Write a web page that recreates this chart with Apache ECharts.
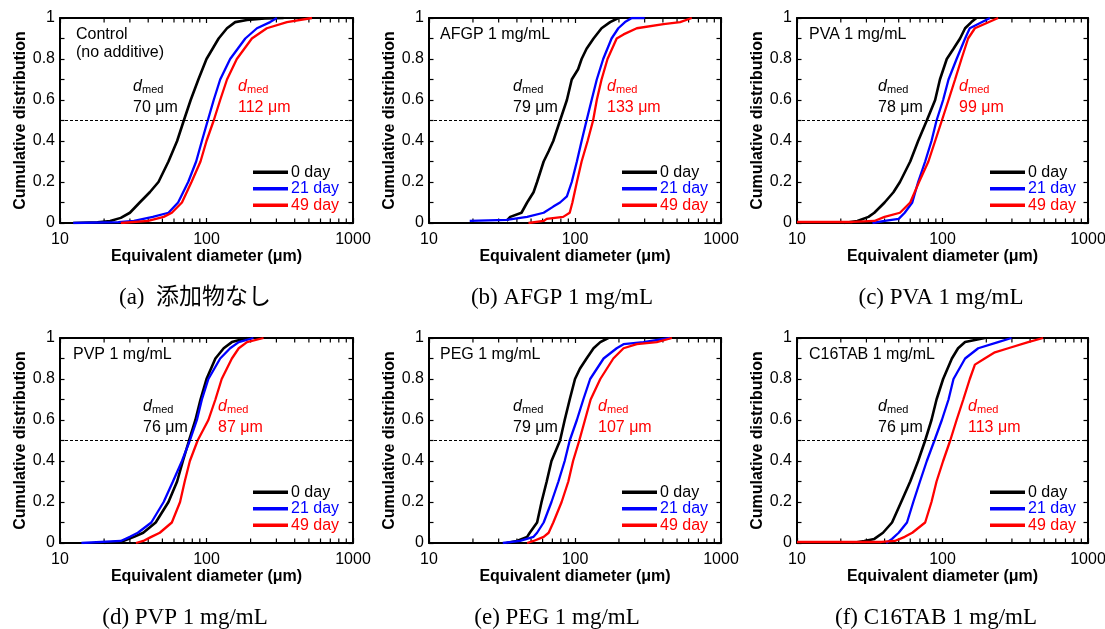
<!DOCTYPE html>
<html><head><meta charset="utf-8">
<script src="https://cdn.jsdelivr.net/npm/echarts@6/dist/echarts.min.js"></script>
<style>html,body{margin:0;padding:0;background:#fff;overflow:hidden}#c{width:1140px;height:629px}</style>
</head><body><div id="c"></div><script>
// ---------- data ----------
const DAYS = ['0 day', '21 day', '49 day'];
const X_MINOR_TICKS = [20,30,40,50,60,70,80,90,200,300,400,500,600,700,800,900];
const PANEL_LABELS = [['Control','(no additive)'], ['AFGP 1 mg/mL'], ['PVA 1 mg/mL'], ['PVP 1 mg/mL'], ['PEG 1 mg/mL'], ['C16TAB 1 mg/mL']];
const CAPTIONS = ['(a)  添加物なし', '(b) AFGP 1 mg/mL', '(c) PVA 1 mg/mL', '(d) PVP 1 mg/mL', '(e) PEG 1 mg/mL', '(f) C16TAB 1 mg/mL'];
const MED_DAY0 = ['70 μm', '79 μm', '78 μm', '76 μm', '79 μm', '76 μm'];
const MED_DAY49 = ['112 μm', '133 μm', '99 μm', '87 μm', '107 μm', '113 μm'];

// [diameter (μm), cumulative fraction]
const ctrl_d0  = [[12.3,0],[18,0.003],[22,0.01],[26,0.025],[30,0.05],[35,0.1],[41,0.15],[47,0.2],[55,0.3],[63,0.4],[70,0.5],[78,0.6],[88,0.7],[100,0.8],[121,0.9],[138,0.95],[157,0.98],[189,0.99],[250,0.998],[336,1]];
const ctrl_d21 = [[12.3,0],[25,0.004],[32,0.01],[43,0.03],[55,0.05],[64,0.1],[75,0.2],[85,0.3],[93,0.4],[102,0.5],[112,0.6],[124,0.7],[145,0.8],[184,0.9],[221,0.95],[272,0.98],[302,1]];
const ctrl_d49 = [[26,0],[40,0.01],[51,0.03],[58,0.05],[68,0.1],[79,0.2],[91,0.3],[100,0.4],[112,0.5],[124,0.6],[138,0.7],[161,0.8],[204,0.9],[258,0.95],[354,0.98],[525,1]];

const afgp_d0  = [[34,0.01],[36,0.03],[43,0.05],[47,0.1],[52,0.15],[55,0.2],[61,0.3],[66,0.35],[71,0.4],[79,0.5],[88,0.6],[95,0.7],[105,0.75],[111,0.8],[120,0.85],[134,0.9],[152,0.95],[174,0.98],[198,1]];
const afgp_d21 = [[19,0.01],[34,0.015],[47,0.03],[61,0.05],[71,0.08],[79,0.1],[88,0.13],[95,0.2],[103,0.3],[111,0.4],[120,0.5],[130,0.6],[141,0.7],[156,0.8],[178,0.9],[198,0.95],[220,0.98],[245,1],[300,1]];
const afgp_d49 = [[48,0],[61,0.01],[64,0.02],[83,0.03],[92,0.05],[96,0.1],[103,0.2],[111,0.3],[122,0.4],[133,0.5],[141,0.6],[152,0.7],[167,0.8],[193,0.9],[215,0.92],[265,0.95],[404,0.97],[525,0.98],[631,1]];

const pva_d0  = [[21,0],[26,0.01],[31,0.03],[34,0.05],[40,0.1],[46,0.15],[51,0.2],[60,0.3],[68,0.4],[78,0.5],[89,0.6],[96,0.7],[107,0.8],[119,0.85],[132,0.9],[143,0.95],[158,0.98],[171,1]];
const pva_d21 = [[33,0],[40,0.01],[50,0.02],[55,0.05],[62,0.1],[68,0.2],[76,0.3],[84,0.4],[91,0.5],[101,0.6],[110,0.7],[125,0.8],[143,0.9],[154,0.95],[212,1]];
const pva_d49 = [[10,0.005],[24,0.005],[34,0.01],[40,0.03],[51,0.05],[60,0.1],[69,0.2],[80,0.3],[89,0.4],[99,0.5],[110,0.6],[122,0.7],[135,0.8],[150,0.9],[167,0.95],[241,1]];

const pvp_d0  = [[20,0],[27,0.01],[32,0.03],[37,0.05],[45,0.1],[55,0.2],[63,0.3],[69,0.4],[76,0.5],[84,0.6],[91,0.7],[100,0.8],[115,0.9],[131,0.95],[149,0.98],[189,1]];
const pvp_d21 = [[14,0],[26,0.01],[30,0.03],[34,0.05],[42,0.1],[51,0.2],[59,0.3],[68,0.4],[77,0.5],[86,0.6],[93,0.7],[103,0.8],[124,0.9],[145,0.95],[166,0.98],[209,1]];
const pvp_d49 = [[33,0],[37,0.01],[42,0.03],[48,0.05],[58,0.1],[66,0.2],[71,0.3],[77,0.4],[87,0.5],[103,0.6],[115,0.7],[127,0.8],[149,0.9],[166,0.95],[189,0.98],[245,1]];

const peg_d0  = [[34,0],[40,0.01],[47,0.03],[49,0.05],[55,0.1],[59,0.2],[64,0.3],[69,0.4],[79,0.5],[85,0.6],[92,0.7],[100,0.8],[108,0.85],[120,0.9],[134,0.95],[149,0.98],[169,1]];
const peg_d21 = [[32,0],[42,0.01],[52,0.03],[55,0.05],[61,0.1],[69,0.2],[77,0.3],[85,0.4],[92,0.5],[103,0.6],[114,0.7],[127,0.8],[157,0.9],[193,0.95],[215,0.97],[294,0.98],[449,1]];
const peg_d49 = [[47,0],[52,0.01],[61,0.03],[66,0.05],[71,0.1],[81,0.2],[90,0.3],[97,0.4],[107,0.5],[117,0.6],[128,0.7],[149,0.8],[183,0.9],[215,0.95],[265,0.97],[363,0.98],[461,1]];

const c16_d0  = [[24,0],[29,0.01],[34,0.02],[39,0.05],[45,0.1],[52,0.2],[60,0.3],[68,0.4],[76,0.5],[84,0.6],[91,0.7],[101,0.8],[116,0.9],[128,0.95],[143,0.98],[195,1]];
const c16_d21 = [[41,0],[45,0.02],[50,0.05],[57,0.1],[63,0.2],[70,0.3],[78,0.4],[88,0.5],[99,0.6],[110,0.7],[119,0.8],[143,0.9],[176,0.95],[241,0.98],[298,1]];
const c16_d49 = [[10,0.005],[38,0.005],[47,0.01],[55,0.03],[62,0.05],[76,0.1],[84,0.2],[91,0.3],[101,0.4],[113,0.5],[125,0.6],[139,0.7],[154,0.8],[167,0.87],[195,0.9],[229,0.93],[283,0.95],[388,0.98],[491,1]];

const PANEL_DATA = [
  [ctrl_d0, ctrl_d21, ctrl_d49],
  [afgp_d0, afgp_d21, afgp_d49],
  [pva_d0, pva_d21, pva_d49],
  [pvp_d0, pvp_d21, pvp_d49],
  [peg_d0, peg_d21, peg_d49],
  [c16_d0, c16_d21, c16_d49]
];

// ---------- layout / style ----------
const COLORS = ['#000000', '#0000ff', '#ff0000'];
const WIDTHS = [2.6, 2.3, 2.3];
const SANS = '"Liberation Sans", Arial, sans-serif';
const SERIF = '"Liberation Serif", "Noto Sans CJK JP", serif';
const GRID_LEFT = [60, 429, 797];
const GRID_W = [293, 292, 291];
const GRID_TOP = [18, 338];
const GRID_H = 205;
const TICK_FRAC = 4.5 / GRID_H;   // minor tick length as a fraction of the y range
const LABEL_POS = [[76,35],[440,35],[809,35],[73,355],[440,355],[809,355]];
const MED0_X = [133, 513, 878, 143, 513, 878];
const MED49_X = [238, 607, 959, 218, 598, 968];
const CAPTION_POS = [[195,298],[562,298],[941,298],[185,618],[557,618],[936,618]];

const grids = [], xAxes = [], yAxes = [], series = [], legends = [], graphics = [];
const axisLine = {show:true, onZero:false, lineStyle:{color:'#000', width:2}};

for (let p = 0; p < 6; p++) {
  const col = p % 3, row = Math.floor(p / 3);
  const gl = GRID_LEFT[col], gt = GRID_TOP[row];
  grids.push({left: gl, top: gt, width: GRID_W[col], height: GRID_H});
  ['bottom','top'].forEach(pos => {
    xAxes.push({
      type: 'log', logBase: 10, gridIndex: p, min: 10, max: 1000, position: pos,
      axisLine: axisLine,
      axisTick: {show: true, inside: true, length: 5, lineStyle: {color: '#000', width: 1.2}},
      axisLabel: {show: pos === 'bottom', color: '#000', fontSize: 16, fontFamily: SANS, margin: 9,
                  formatter: v => String(Math.round(v))},
      splitLine: {show: false},
      name: pos === 'bottom' ? 'Equivalent diameter (μm)' : '',
      nameLocation: 'middle', nameGap: 24,
      nameTextStyle: {color: '#000', fontSize: 16, fontWeight: 'bold', fontFamily: SANS}
    });
  });
  ['left','right'].forEach(pos => {
    yAxes.push({
      type: 'value', gridIndex: p, min: 0, max: 1, interval: 0.2, position: pos,
      axisLine: axisLine,
      axisTick: {show: true, inside: true, length: 4.5, lineStyle: {color: '#000', width: 1.2}},
      minorTick: {show: true, splitNumber: 2, length: 4.5, lineStyle: {color: '#000', width: 1.2}},
      axisLabel: {show: pos === 'left', color: '#000', fontSize: 16, fontFamily: SANS, margin: 5},
      splitLine: {show: false}, minorSplitLine: {show: false},
      name: pos === 'left' ? 'Cumulative distribution' : '',
      nameLocation: 'middle', nameGap: 29,
      nameTextStyle: {color: '#000', fontSize: 16, fontWeight: 'bold', fontFamily: SANS}
    });
  });
}

// minor log ticks as short broken line segments, placed through the axes
function minorTickData() {
  const out = [];
  X_MINOR_TICKS.forEach(v => {
    out.push([v, 0], [v, TICK_FRAC], [v, '-']);
    out.push([v, 1], [v, 1 - TICK_FRAC], [v, '-']);
  });
  return out;
}

for (let p = 0; p < 6; p++) {
  const xi = p * 2, yi = p * 2;
  series.push({
    type: 'line', name: 'minor ticks', xAxisIndex: xi, yAxisIndex: yi,
    data: minorTickData(), connectNulls: false,
    symbol: 'none', showSymbol: false, silent: true,
    itemStyle: {color: '#000'},
    lineStyle: {color: '#000', width: 1.2}
  });
  PANEL_DATA[p].forEach((d, k) => {
    const s = {
      type: 'line', name: DAYS[k], xAxisIndex: xi, yAxisIndex: yi, data: d,
      symbol: 'none', showSymbol: false,
      itemStyle: {color: COLORS[k]},
      lineStyle: {color: COLORS[k], width: WIDTHS[k]}
    };
    if (k === 0) {
      s.markLine = {
        silent: true, symbol: 'none', label: {show: false},
        lineStyle: {color: '#000', width: 1, type: [3, 2]},
        data: [{yAxis: 0.5}]
      };
    }
    series.push(s);
  });
}

for (let p = 0; p < 6; p++) {
  const col = p % 3, row = Math.floor(p / 3);
  const gl = GRID_LEFT[col], gt = GRID_TOP[row];
  legends.push({
    orient: 'vertical', left: gl + 188, top: gt + 141,
    itemWidth: 35, itemHeight: 3.5, itemGap: 0, icon: 'rect', selectedMode: false,
    textStyle: {fontSize: 16, fontFamily: SANS, lineHeight: 16.5, padding: [0, 0, 0, -2]},
    data: DAYS.map((n, k) => ({name: n, textStyle: {color: COLORS[k]}}))
  });
  PANEL_LABELS[p].forEach((t, i) => {
    graphics.push({type: 'text', x: LABEL_POS[p][0], y: LABEL_POS[p][1] + i * 18,
      style: {text: t, fill: '#000', font: '16px ' + SANS, textVerticalAlign: 'middle', verticalAlign: 'middle'}});
  });
  const yd = gt + 69, yv = gt + 90;
  [[MED0_X[p], MED_DAY0[p], '#000'], [MED49_X[p], MED_DAY49[p], '#ff0000']].forEach(([x, val, c]) => {
    graphics.push({type: 'text', x: x, y: yd, style: {text: 'd', fill: c, font: 'italic 16px ' + SANS, textVerticalAlign: 'middle', verticalAlign: 'middle'}});
    graphics.push({type: 'text', x: x + 9, y: yd + 3, style: {text: 'med', fill: c, font: '11px ' + SANS, textVerticalAlign: 'middle', verticalAlign: 'middle'}});
    graphics.push({type: 'text', x: x, y: yv, style: {text: val, fill: c, font: '16px ' + SANS, textVerticalAlign: 'middle', verticalAlign: 'middle'}});
  });
  graphics.push({type: 'text', x: CAPTION_POS[p][0], y: CAPTION_POS[p][1],
    style: {text: CAPTIONS[p], fill: '#000', font: '23px ' + SERIF, textAlign: 'center', align: 'center', textVerticalAlign: 'middle', verticalAlign: 'middle'}});
}

const chart = echarts.init(document.getElementById('c'), null, {renderer: 'canvas'});
chart.setOption({
  backgroundColor: '#fff',
  animation: false,
  grid: grids, xAxis: xAxes, yAxis: yAxes, series: series, legend: legends,
  graphic: graphics
});
</script></body></html>
